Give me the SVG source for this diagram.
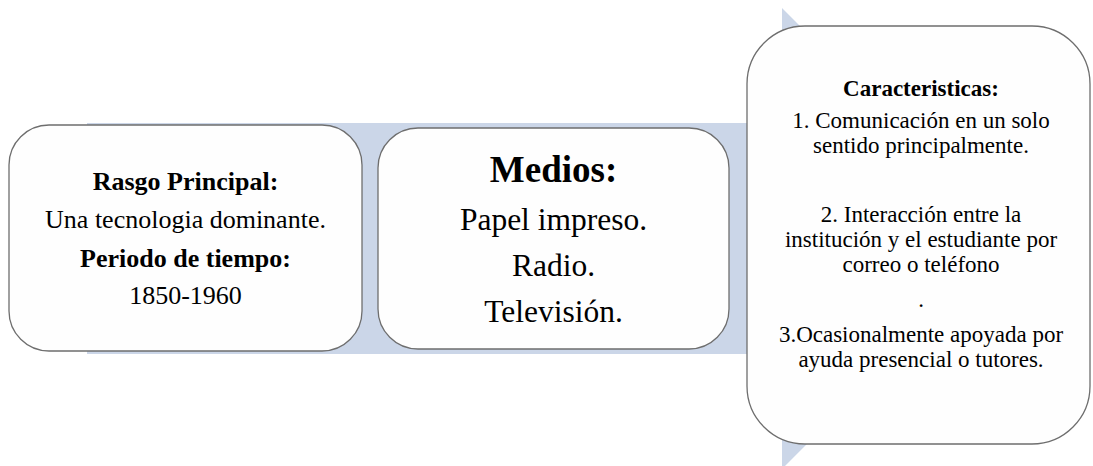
<svg xmlns="http://www.w3.org/2000/svg" width="1093" height="466" viewBox="0 0 1093 466">
<style>
.box{fill:#fefefe;stroke:#6e6e6e;stroke-width:1.3}
.t{fill:#000;text-anchor:middle}
.b{font-weight:bold}
</style>
<rect width="1093" height="466" fill="#ffffff"/>
<g id="arrow">
<polygon points="87,123 782,123 782,8 1012,238.5 782,469 782,354 87,354" fill="#cbd6e8"/>
</g>
<g id="connectors"></g>
<g font-family="'Liberation Serif', Tinos, 'DejaVu Serif', serif">
<g id="node1">
<rect class="box" x="9" y="125" width="353" height="226" rx="40" ry="40"/>
<text class="t b" x="185.5" y="190" font-size="26">Rasgo Principal:</text>
<text class="t" x="185.5" y="228" font-size="26">Una tecnologia dominante.</text>
<text class="t b" x="185.5" y="267" font-size="26">Periodo de tiempo:</text>
<text class="t" x="185.5" y="304" font-size="26">1850-1960</text>
</g>
<g id="node2">
<rect class="box" x="378" y="128" width="351" height="221" rx="40" ry="40"/>
<text class="t b" x="553.5" y="182" font-size="37">Medios:</text>
<text class="t" x="553.5" y="230" font-size="31.5">Papel impreso.</text>
<text class="t" x="553.5" y="276" font-size="31.5">Radio.</text>
<text class="t" x="553.5" y="322" font-size="31.5">Televisión.</text>
</g>
<g id="node3">
<rect class="box" x="747" y="26" width="343" height="418" rx="58" ry="58"/>
<text class="t b" x="921" y="96" font-size="23">Caracteristicas:</text>
<text class="t" x="921" y="128" font-size="23">1. Comunicación en un solo</text>
<text class="t" x="921" y="153" font-size="23">sentido principalmente.</text>
<text class="t" x="921" y="222" font-size="23">2. Interacción entre la</text>
<text class="t" x="921" y="247" font-size="23">institución y el estudiante por</text>
<text class="t" x="921" y="272" font-size="23">correo o teléfono</text>
<text class="t" x="921" y="307" font-size="23">.</text>
<text class="t" x="921" y="342" font-size="23">3.Ocasionalmente apoyada por</text>
<text class="t" x="921" y="367" font-size="23">ayuda presencial o tutores.</text>
</g>
</g>
</svg>
